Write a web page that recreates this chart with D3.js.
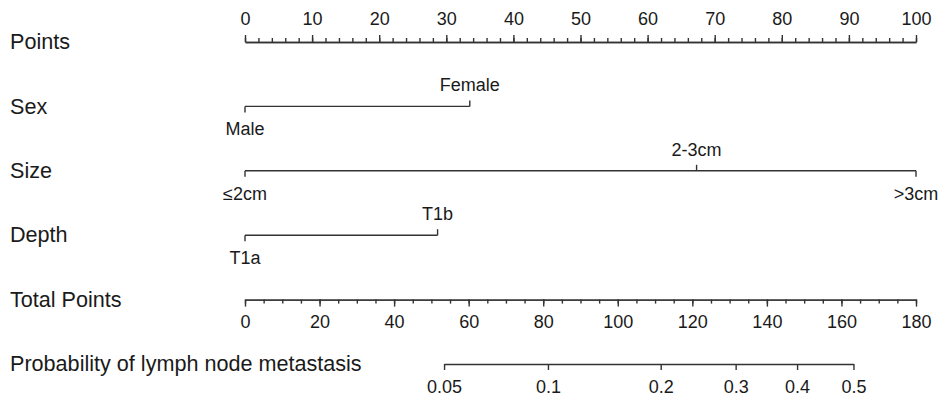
<!DOCTYPE html>
<html>
<head>
<meta charset="utf-8">
<script src="https://cdn.jsdelivr.net/npm/d3@7"></script>
<style>
  body { margin: 0; background: #fff; }
  svg text { font-family: "Liberation Sans", Arial, sans-serif; fill: #1a1a1a; }
  .axis path, .axis line, .row line { stroke: #333; stroke-width: 1.4; fill: none; }
  .axis text { font-size: 18px; }
</style>
</head>
<body>
<div id="nomo"></div>
<script>
// data
var rowLabels = ["Points", "Sex", "Size", "Depth", "Total Points", "Probability of lymph node metastasis"];
var pointsTicks = [0, 10, 20, 30, 40, 50, 60, 70, 80, 90, 100];
var sexLevels = ["Male", "Female"];
var sexPoints = [0, 33.5];
var sizeLevels = ["\u22642cm", "2-3cm", ">3cm"];
var sizePoints = [0, 67.3, 100];
var depthLevels = ["T1a", "T1b"];
var depthPoints = [0, 28.7];
var totalTicks = [0, 20, 40, 60, 80, 100, 120, 140, 160, 180];
var probTicks = [0.05, 0.1, 0.2, 0.3, 0.4, 0.5];
var lpIntercept = -4.376,
    lpSlope = 0.02681;

var width = 942,
    height = 400;

var svg = d3.select('#nomo')
            .append('svg')
            .attr('width', width)
            .attr('height', height);

// scales
var x = d3.scaleLinear().domain([0, 100]).range([245, 916]);
var xTotal = d3.scaleLinear().domain([0, 180]).range([245, 916]);
var y = d3.scalePoint().domain(rowLabels).range([42, 364]);

function logit(p) { return Math.log(p / (1 - p)); }
function lpToTotal(lp) { return (lp - lpIntercept) / lpSlope; }

// row labels
svg.selectAll("rowlabel")
  .data(rowLabels)
  .enter()
  .append("text")
    .attr("x", 10)
    .attr("y", function(d) { return y(d); })
    .attr("dy", "0.33em")
    .style("font-size", "21.6px")
    .text(function(d) { return d; });

// Points axis (ticks on top)
var gPts = svg.append("g")
  .attr("class", "axis")
  .attr("transform", "translate(0," + y("Points") + ")");
gPts.append("g")
  .call(d3.axisTop(x).tickValues(d3.range(0, 101, 2)).tickSize(4).tickSizeOuter(0).tickFormat(""));
gPts.append("g")
  .call(d3.axisTop(x).tickValues(pointsTicks).tickSize(7).tickSizeOuter(0).tickPadding(10));

// categorical rows
function drawRow(name, levels, pts) {
  var g = svg.append("g")
    .attr("class", "row")
    .attr("transform", "translate(0," + y(name) + ")");
  g.append("line")
    .attr("x1", x(d3.min(pts)))
    .attr("x2", x(d3.max(pts)))
    .attr("y1", 0).attr("y2", 0);
  g.selectAll("tk")
    .data(levels)
    .enter()
    .append("line")
      .attr("x1", function(d, i) { return x(pts[i]); })
      .attr("x2", function(d, i) { return x(pts[i]); })
      .attr("y1", 0)
      .attr("y2", function(d, i) { return i % 2 ? -6 : 6; });
  g.selectAll("lab")
    .data(levels)
    .enter()
    .append("text")
      .attr("x", function(d, i) { return x(pts[i]); })
      .attr("y", function(d, i) { return i % 2 ? -15 : 29; })
      .attr("text-anchor", "middle")
      .style("font-size", "18px")
      .text(function(d) { return d; });
}
drawRow("Sex", sexLevels, sexPoints);
drawRow("Size", sizeLevels, sizePoints);
drawRow("Depth", depthLevels, depthPoints);

// Total points axis (ticks below)
var gTot = svg.append("g")
  .attr("class", "axis")
  .attr("transform", "translate(0," + y("Total Points") + ")");
gTot.append("g")
  .call(d3.axisBottom(xTotal).tickValues(d3.range(0, 181, 5)).tickSize(4).tickSizeOuter(0).tickFormat(""));
gTot.append("g")
  .call(d3.axisBottom(xTotal).tickValues(totalTicks).tickSize(7).tickSizeOuter(0).tickPadding(9));

// Probability axis, placed through the linear predictor
var lpLo = logit(d3.min(probTicks)),
    lpHi = logit(d3.max(probTicks));
var xLp = d3.scaleLinear()
  .domain([lpLo, lpHi])
  .range([xTotal(lpToTotal(lpLo)), xTotal(lpToTotal(lpHi))]);
svg.append("g")
  .attr("class", "axis")
  .attr("transform", "translate(0," + y("Probability of lymph node metastasis") + ")")
  .call(d3.axisBottom(xLp)
    .tickValues(probTicks.map(logit))
    .tickFormat(function(d, i) { return probTicks[i]; })
    .tickSize(6).tickSizeOuter(0).tickPadding(10));

svg.selectAll(".axis text").attr("fill", "#1a1a1a").style("font-size", "18px");
svg.selectAll(".axis .tick line").attr("stroke", "#333");
</script>
</body>
</html>
